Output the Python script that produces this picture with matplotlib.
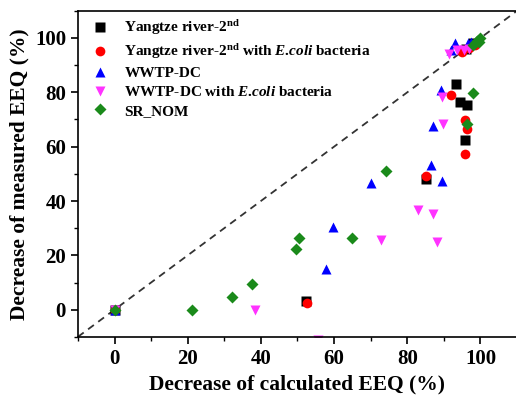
import matplotlib
matplotlib.use('Agg')
import matplotlib.pyplot as plt
from matplotlib.ticker import MultipleLocator

plt.rcParams['font.family'] = ['Liberation Serif', 'DejaVu Serif']
plt.rcParams['font.weight'] = 'bold'
plt.rcParams['mathtext.fontset'] = 'custom'
plt.rcParams['mathtext.rm'] = 'Liberation Serif:bold'
plt.rcParams['mathtext.bf'] = 'Liberation Serif:bold'
plt.rcParams['mathtext.it'] = 'Liberation Serif:bold:italic'

# Yangtze river-2nd
yz_x = [0, 52.2, 85.2, 93.4, 94.3, 96.2, 95.9, 96, 98]
yz_y = [0, 3.3, 48.2, 83, 76.5, 75.4, 62.5, 96, 98]
# Yangtze river-2nd with E.coli
yze_x = [0, 52.5, 85, 92, 95.9, 96.2, 95.9, 95, 97, 98.5]
yze_y = [0, 2.6, 49.3, 79, 69.8, 66.5, 57.4, 95, 96.5, 97.5]
# WWTP-DC
ww_x = [0, 57.9, 59.8, 70.2, 86.6, 89.6, 86.9, 89.3, 92, 93, 96.5, 97.5]
ww_y = [0, 15, 30.5, 46.7, 53.3, 47.4, 67.6, 80.8, 95.5, 98, 98, 98.5]
# WWTP-DC with E.coli
wwe_x = [0, 38.5, 55.5, 72.7, 83, 86.9, 88, 89.9, 89.6, 91.5, 93.5, 95.5, 97]
wwe_y = [0, 0, -11, 25.7, 36.8, 35.3, 25, 68.4, 78.3, 94, 95.5, 95.5, 96]
# SR_NOM
sr_x = [0, 21.3, 32, 37.7, 49.5, 50.3, 64.8, 74.3, 96.2, 98, 98, 99, 99.5, 100]
sr_y = [0, 0, 4.8, 9.5, 22.4, 26.5, 26.5, 51, 68.4, 79.8, 97.5, 99, 98.5, 100]

fig = plt.figure(figsize=(5.16, 4.01), dpi=100)
ax = fig.add_axes([0.151, 0.160, 0.851, 0.813])

ax.plot([-10, 110], [-10, 110], color='#333333', ls=(0, (4, 3)), lw=1.3, zorder=1)

ms = 6.5
ax.plot(yz_x, yz_y, 's', color='black', ms=ms, mec='none',
        label=r'Yangtze river-2$^{\rm nd}$')
ax.plot(yze_x, yze_y, 'o', color='red', ms=ms + 0.5, mec='none',
        label=r'Yangtze river-2$^{\rm nd}$ with $E$.$coli$ bacteria')
ax.plot(ww_x, ww_y, '^', color='blue', ms=ms + 1, mec='none', label='WWTP-DC')
ax.plot(wwe_x, wwe_y, 'v', color='#ff33ff', ms=ms + 1, mec='none',
        label=r'WWTP-DC with $E$.$coli$ bacteria')
ax.plot(sr_x, sr_y, 'D', color='#1a8a1a', ms=ms - 0.5, mec='none', label='SR_NOM')

ax.set_xlim(-10, 110)
ax.set_ylim(-10, 110)
ax.xaxis.set_major_locator(MultipleLocator(20))
ax.xaxis.set_minor_locator(MultipleLocator(10))
ax.yaxis.set_major_locator(MultipleLocator(20))
ax.yaxis.set_minor_locator(MultipleLocator(10))
ax.tick_params(which='major', direction='out', length=5, width=1.2, labelsize=15)
ax.tick_params(which='minor', direction='out', length=3, width=1)
for s in ax.spines.values():
    s.set_linewidth(1.2)

ax.set_xlabel('Decrease of calculated EEQ (%)', fontsize=15.5, fontweight='bold')
ax.set_ylabel('Decrease of measured EEQ (%)', fontsize=15.5, fontweight='bold')

ax.legend(loc='upper left', bbox_to_anchor=(0.012, 1.0), frameon=False, fontsize=11,
          handletextpad=1.0, labelspacing=0.33, borderaxespad=0.1, handlelength=1.2)

fig.savefig('out.png', dpi=100)
